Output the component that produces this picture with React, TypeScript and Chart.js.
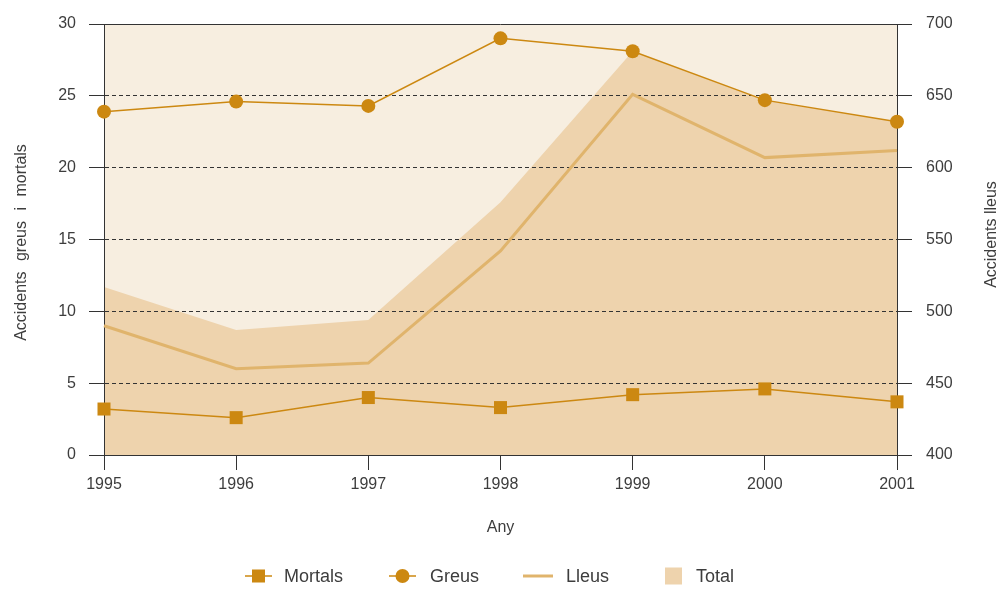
import React, { useEffect, useRef } from 'react';
import { Chart, registerables } from 'chart.js';

// ---- Data ----
const years = ['1995', '1996', '1997', '1998', '1999', '2000', '2001'];
const mortals = [3.2, 2.6, 4.0, 3.3, 4.2, 4.6, 3.7];
const greus = [23.9, 24.6, 24.3, 29.0, 28.1, 24.7, 23.2];
const lleus = [490, 460, 464, 542, 651, 607, 612];
const total = [517, 487, 494, 576, 681, 647, 632];

const leftMin = 0;
const leftMax = 30;
const leftStep = 5;
const rightMin = 400;
const rightMax = 700;
const rightStep = 50;

const xTitle = 'Any';
const leftTitle = 'Accidents greus i mortals';
const rightTitle = 'Accidents lleus';
const legendLabels = ['Mortals', 'Greus', 'Lleus', 'Total'];

// ---- Styles ----
const GOLD = '#cc8811';
const LLEUS_COLOR = '#e0b46c';
const TOTAL_COLOR = '#eed3ad';
const BG = '#f7eee0';
const AXIS = '#333333';
const GRID = '#333333';
const TEXT = '#3d3d3d';
const FONT = "'Liberation Sans', Arial, sans-serif";

const bgPlugin = {
  id: 'plotBg',
  beforeDraw(chart: any) {
    const { ctx, chartArea: a } = chart;
    if (!a) return;
    ctx.save();
    ctx.fillStyle = BG;
    ctx.fillRect(a.left, a.top, a.right - a.left, a.bottom - a.top);
    ctx.restore();
  },
};
Chart.register(bgPlugin);
Chart.register(...registerables);

const decorPlugin = {
  id: 'decor',
  afterDraw(chart: any) {
    const { ctx, chartArea: a } = chart;
    ctx.save();
    // top frame line
    ctx.strokeStyle = AXIS;
    ctx.lineWidth = 1;
    ctx.beginPath();
    ctx.moveTo(a.left, Math.round(a.top) + 0.5);
    ctx.lineTo(a.right, Math.round(a.top) + 0.5);
    ctx.stroke();

    // axis titles (rotated, reading bottom-to-top)
    ctx.fillStyle = TEXT;
    ctx.font = `16px ${FONT}`;
    ctx.textAlign = 'center';
    ctx.textBaseline = 'middle';
    const midY = (a.top + a.bottom) / 2;
    ctx.save();
    (ctx as any).wordSpacing = '6px';
    ctx.translate(22, midY + 3);
    ctx.rotate(-Math.PI / 2);
    ctx.fillText(leftTitle, 0, 0);
    ctx.restore();
    ctx.save();
    ctx.translate(chart.width - 9, midY - 5);
    ctx.rotate(-Math.PI / 2);
    ctx.fillText(rightTitle, 0, 0);
    ctx.restore();

    // legend
    const ly = 576;
    ctx.font = `18px ${FONT}`;
    ctx.textAlign = 'left';
    ctx.textBaseline = 'middle';
    const xs = [245, 389, 523, 665];
    const tx = [284, 430, 566, 696];
    // Mortals
    ctx.strokeStyle = GOLD;
    ctx.lineWidth = 1.5;
    ctx.beginPath();
    ctx.moveTo(xs[0], ly);
    ctx.lineTo(xs[0] + 27, ly);
    ctx.stroke();
    ctx.fillStyle = GOLD;
    ctx.fillRect(xs[0] + 13.5 - 6.5, ly - 6.5, 13, 13);
    // Greus
    ctx.beginPath();
    ctx.moveTo(xs[1], ly);
    ctx.lineTo(xs[1] + 27, ly);
    ctx.stroke();
    ctx.beginPath();
    ctx.arc(xs[1] + 13.5, ly, 7, 0, Math.PI * 2);
    ctx.fill();
    // Lleus
    ctx.strokeStyle = LLEUS_COLOR;
    ctx.lineWidth = 3;
    ctx.beginPath();
    ctx.moveTo(xs[2], ly);
    ctx.lineTo(xs[2] + 30, ly);
    ctx.stroke();
    // Total
    ctx.fillStyle = TOTAL_COLOR;
    ctx.fillRect(xs[3], ly - 8.5, 17, 17);

    ctx.fillStyle = TEXT;
    legendLabels.forEach((t, i) => ctx.fillText(t, tx[i], ly + 1));
    ctx.restore();
  },
};

export default function App() {
  const ref = useRef<HTMLCanvasElement | null>(null);

  useEffect(() => {
    if (!ref.current) return;
    Chart.defaults.font.family = FONT;
    Chart.defaults.color = TEXT;
    const chart = new Chart(ref.current, {
      type: 'line',
      data: {
        labels: years,
        datasets: [
          {
            label: legendLabels[0],
            data: mortals,
            yAxisID: 'yL',
            borderColor: GOLD,
            borderWidth: 1.5,
            backgroundColor: GOLD,
            pointStyle: 'rect',
            pointRadius: 9.2,
            pointBorderWidth: 0,
            pointBackgroundColor: GOLD,
            fill: false,
            tension: 0,
            clip: false,
          },
          {
            label: legendLabels[1],
            data: greus,
            yAxisID: 'yL',
            borderColor: GOLD,
            borderWidth: 1.5,
            backgroundColor: GOLD,
            pointStyle: 'circle',
            pointRadius: 7,
            pointBorderWidth: 0,
            pointBackgroundColor: GOLD,
            fill: false,
            tension: 0,
            clip: false,
          },
          {
            label: legendLabels[2],
            data: lleus,
            yAxisID: 'yR',
            borderColor: LLEUS_COLOR,
            borderWidth: 3,
            pointRadius: 0,
            fill: false,
            tension: 0,
            clip: false,
          },
          {
            label: legendLabels[3],
            data: total,
            yAxisID: 'yR',
            borderColor: 'rgba(0,0,0,0)',
            borderWidth: 0,
            backgroundColor: TOTAL_COLOR,
            pointRadius: 0,
            fill: 'start',
            tension: 0,
          },
        ],
      },
      options: {
        animation: false,
        responsive: true,
        maintainAspectRatio: false,
        layout: { padding: { top: 24, left: 0, right: 0, bottom: 0 } },
        plugins: {
          legend: { display: false },
          tooltip: { enabled: false },
          filler: { drawTime: 'beforeDraw', propagate: false },
        },
        scales: {
          x: {
            type: 'category',
            offset: false,
            grid: { drawOnChartArea: false, tickLength: 15, color: AXIS, lineWidth: 1 },
            border: { color: AXIS, width: 1 },
            ticks: { padding: 5, color: TEXT, font: { size: 16 }, maxRotation: 0, autoSkip: false },
            title: {
              display: true,
              text: xTitle,
              color: TEXT,
              font: { size: 16 },
              padding: { top: 0, bottom: 52 },
            },
            afterFit: (s: any) => { s.height = 134; },
          },
          yL: {
            type: 'linear',
            position: 'left',
            min: leftMin,
            max: leftMax,
            ticks: { stepSize: leftStep, padding: 13, color: TEXT, font: { size: 16 } },
            grid: {
              color: (c: any) => (c.tick && (c.tick.value === leftMin || c.tick.value === leftMax) ? 'rgba(0,0,0,0)' : GRID),
              tickColor: AXIS,
              tickLength: 15,
              lineWidth: 1,
              drawOnChartArea: true,
            },
            border: { color: AXIS, width: 1, dash: [4, 3] },
            afterFit: (s: any) => { s.width = 104; },
          },
          yR: {
            type: 'linear',
            position: 'right',
            min: rightMin,
            max: rightMax,
            ticks: { stepSize: rightStep, padding: 14, color: TEXT, font: { size: 16 } },
            grid: { drawOnChartArea: false, tickColor: AXIS, color: AXIS, tickLength: 15, lineWidth: 1 },
            border: { color: AXIS, width: 1 },
            afterFit: (s: any) => { s.width = 104; },
          },
        },
      } as any,
      plugins: [decorPlugin],
    });
    return () => chart.destroy();
  }, []);

  return (
    <div style={{ position: 'fixed', left: 0, top: 0, width: 1001, height: 589, background: '#fff' }}>
      <canvas ref={ref} />
    </div>
  );
}
